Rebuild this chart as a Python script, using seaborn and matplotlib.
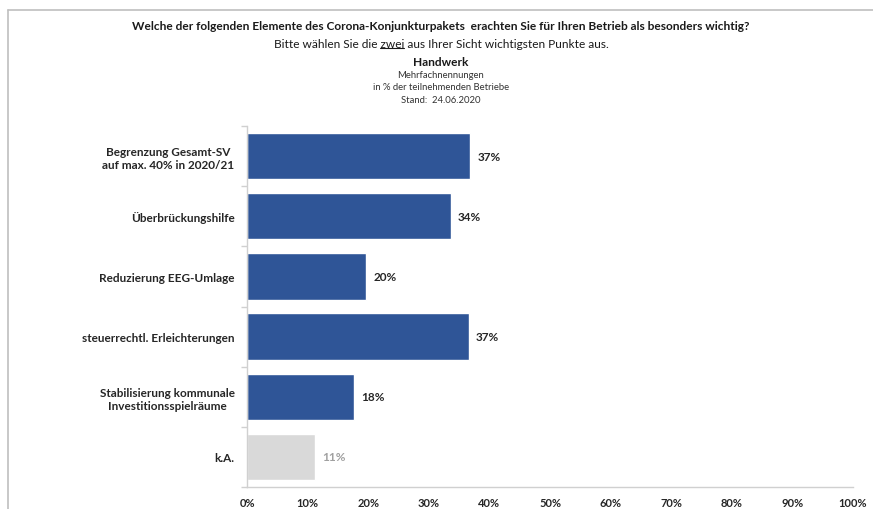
import matplotlib
matplotlib.use("Agg")
import matplotlib.pyplot as plt
from matplotlib.lines import Line2D
from matplotlib.ticker import FixedLocator, PercentFormatter
import seaborn as sns
import pandas as pd
import numpy as np

categories = [
    "Begrenzung Gesamt-SV\nauf max. 40% in 2020/21",
    "Überbrückungshilfe",
    "Reduzierung EEG-Umlage",
    "steuerrechtl. Erleichterungen",
    "Stabilisierung kommunale\nInvestitionsspielräume",
    "k.A.",
]
values = [36.8, 33.6, 19.7, 36.6, 17.7, 11.2]
groups = ["item", "item", "item", "item", "item", "ka"]
xticks = [0, 10, 20, 30, 40, 50, 60, 70, 80, 90, 100]

BLUE = "#2F5597"
GREY = "#D9D9D9"
AXIS = "#D0D0D0"

sns.set_theme(style="white")
plt.rcParams["font.family"] = ["Lato", "DejaVu Sans"]

df = pd.DataFrame({"cat": categories, "val": values, "grp": groups})

fig = plt.figure(figsize=(8.73, 5.10), dpi=100)
ax = fig.add_axes([247 / 873, 1 - 488 / 510, 606 / 873, 361 / 510])

sns.barplot(data=df, y="cat", x="val", hue="grp", orient="h",
            palette={"item": BLUE, "ka": GREY}, dodge=False, legend=False,
            width=0.77, ax=ax, saturation=1)

ax.set_xlim(0, 100)
ax.set_ylim(len(categories) - 0.5, -0.5)
ax.set_xlabel("")
ax.set_ylabel("")
ax.xaxis.set_major_locator(FixedLocator(xticks))
ax.xaxis.set_major_formatter(PercentFormatter(decimals=0))
for s in ["top", "right"]:
    ax.spines[s].set_visible(False)
for s in ["left", "bottom"]:
    ax.spines[s].set_color(AXIS)
    ax.spines[s].set_linewidth(1.0)

ax.tick_params(axis="x", which="major", length=4, width=1, color=AXIS,
               direction="out", pad=3, labelsize=8, labelcolor="#262626")
for lbl in ax.get_xticklabels():
    lbl.set_fontweight("bold")

ax.yaxis.set_minor_locator(FixedLocator(np.arange(-0.5, len(categories), 1.0)))
ax.tick_params(axis="y", which="major", length=0, pad=9, labelsize=8.5,
               labelcolor="#262626")
ax.tick_params(axis="y", which="minor", length=4, width=1, color=AXIS,
               direction="out", left=True)
for lbl in ax.get_yticklabels():
    lbl.set_fontweight("bold")
    lbl.set_multialignment("center")

for i, (v, g) in enumerate(zip(values, groups)):
    ax.text(v + 1.2, i, f"{round(v):d}%", va="center", ha="left",
            fontsize=8.5, fontweight="bold",
            color="#A0A0A0" if g == "ka" else "#262626")

# Titles
cx = 441 / 873
def fy(py):
    return 1 - py / 510

fig.text(cx, fy(27), "Welche der folgenden Elemente des Corona-Konjunkturpakets  erachten Sie für Ihren Betrieb als besonders wichtig?",
         ha="center", va="center", fontsize=8.6, fontweight="bold", color="#1a1a1a")
line2 = "Bitte wählen Sie die zwei aus Ihrer Sicht wichtigsten Punkte aus."
t2 = fig.text(cx, fy(44), line2, ha="center", va="center", fontsize=8.6, color="#1a1a1a")
fig.text(cx, fy(62), "Handwerk", ha="center", va="center", fontsize=8.6,
         fontweight="bold", color="#1a1a1a")
fig.text(cx, fy(75), "Mehrfachnennungen", ha="center", va="center", fontsize=6.8, color="#333333")
fig.text(cx, fy(88), "in % der teilnehmenden Betriebe", ha="center", va="center",
         fontsize=6.8, color="#333333")
fig.text(cx, fy(101), "Stand:  24.06.2020", ha="center", va="center", fontsize=6.8, color="#333333")

# underline "zwei"
renderer = fig.canvas.get_renderer()
bb = t2.get_window_extent(renderer)
def width_of(s):
    tt = fig.text(0, 0, s, fontsize=8.6)
    w = tt.get_window_extent(renderer).width
    tt.remove()
    return w
pre = width_of("Bitte wählen Sie die ")
wz = width_of("zwei")
x0 = (bb.x0 + pre) / fig.bbox.width
x1 = (bb.x0 + pre + wz) / fig.bbox.width
yu = (bb.y0 + 1) / fig.bbox.height
fig.add_artist(Line2D([x0, x1], [yu, yu], color="#1a1a1a", lw=0.8,
                      transform=fig.transFigure))

# frame lines
fig.add_artist(Line2D([8 / 873, 1.0], [fy(11), fy(11)], color="#BFBFBF", lw=1.2,
                      transform=fig.transFigure))
fig.add_artist(Line2D([8 / 873, 8 / 873], [fy(11), 0], color="#BFBFBF", lw=1.2,
                      transform=fig.transFigure))

fig.savefig("out.png", dpi=100)
